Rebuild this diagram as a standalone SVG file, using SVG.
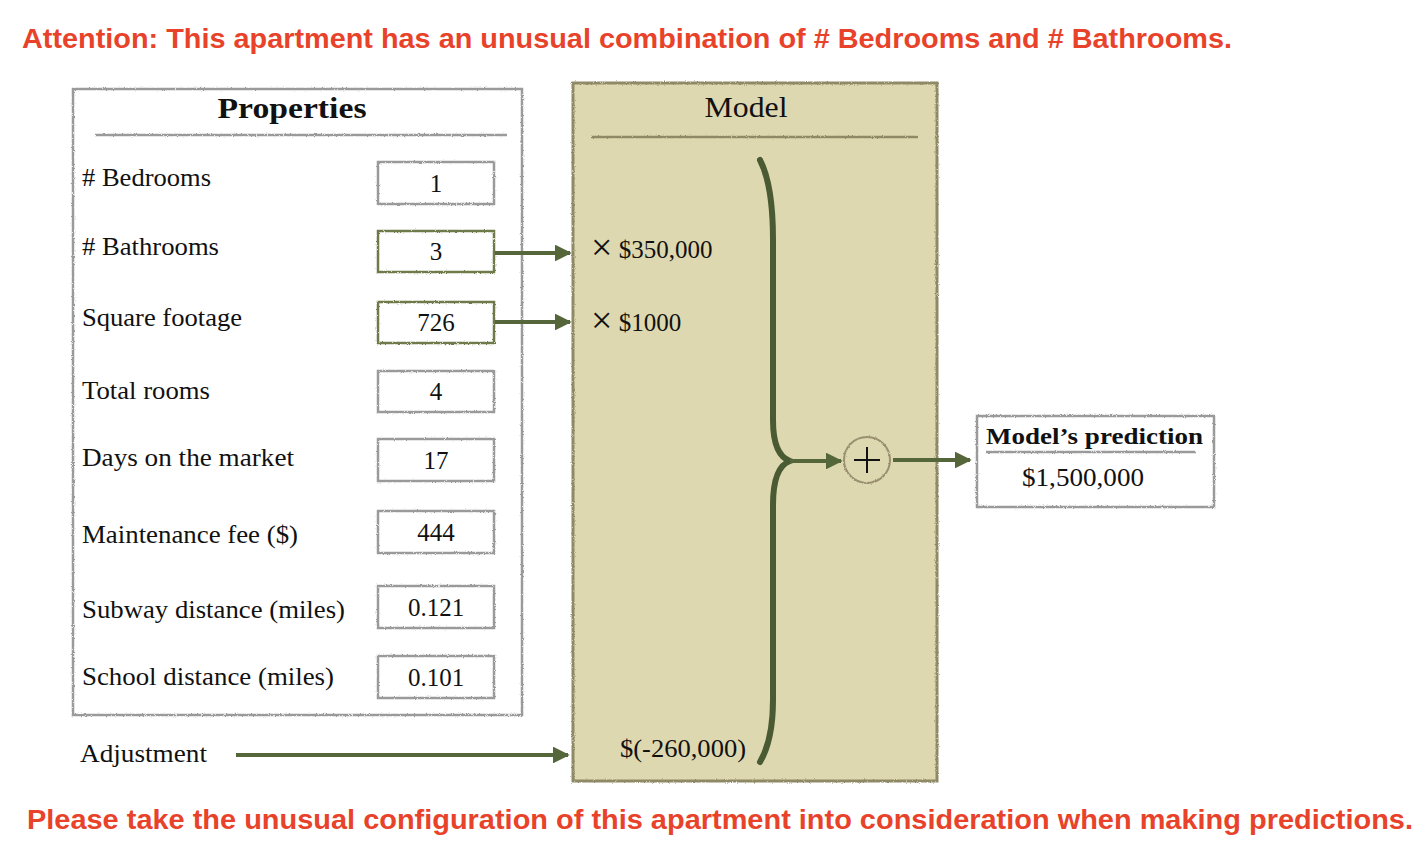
<svg xmlns="http://www.w3.org/2000/svg" width="1420" height="852" viewBox="0 0 1420 852">
<defs>
<filter id="rough" x="-5%" y="-5%" width="110%" height="110%">
<feTurbulence type="fractalNoise" baseFrequency="0.9" numOctaves="2" seed="3" result="n"/>
<feDisplacementMap in="SourceGraphic" in2="n" scale="2.5" xChannelSelector="R" yChannelSelector="G"/>
</filter>
<filter id="roughU" filterUnits="userSpaceOnUse" x="0" y="0" width="1420" height="852">
<feTurbulence type="fractalNoise" baseFrequency="0.9" numOctaves="2" seed="5" result="n"/>
<feDisplacementMap in="SourceGraphic" in2="n" scale="2.5" xChannelSelector="R" yChannelSelector="G"/>
</filter>
<marker id="arr" viewBox="0 0 10 10" refX="9" refY="5" markerWidth="4.2" markerHeight="4.2" orient="auto" markerUnits="strokeWidth">
<path d="M0,0 L10,5 L0,10 z" fill="#55663A"/>
</marker>
<style>
.warn{font-family:"Liberation Sans",Arial,sans-serif;font-weight:bold;font-size:27px;fill:#E8432A}
.lbl{font-family:"Liberation Serif","Times New Roman",serif;font-size:25px;fill:#111}
.val{font-family:"Liberation Serif","Times New Roman",serif;font-size:25px;fill:#111;text-anchor:middle}
.ttl{font-family:"Liberation Serif","Times New Roman",serif;font-size:30px;fill:#111;text-anchor:middle}
.box{fill:#fff;stroke:#9a9a9a;stroke-width:2.5}
.gbox{fill:#fff;stroke:#6E7A4A;stroke-width:2.5}
.rule{stroke:#9a9a9a;stroke-width:2.5}
.conn{stroke:#55663A;stroke-width:4;fill:none}
.x{font-size:38px}
</style>
</defs>
<rect width="1420" height="852" fill="#fff"/>
<text id="top-warning" class="warn" x="22" y="48" textLength="1210" lengthAdjust="spacingAndGlyphs">Attention: This apartment has an unusual combination of # Bedrooms and # Bathrooms.</text>
<text id="bottom-warning" class="warn" x="27" y="829" textLength="1386" lengthAdjust="spacingAndGlyphs">Please take the unusual configuration of this apartment into consideration when making predictions.</text>

<g id="model">
<rect x="573" y="83" width="364" height="698" fill="#DDD8B0" stroke="#8F8966" stroke-width="3" filter="url(#rough)"/>
<text class="ttl" x="746" y="117" textLength="83" lengthAdjust="spacingAndGlyphs">Model</text>
<line x1="591" y1="137" x2="918" y2="137" stroke="#8F8966" stroke-width="2.5" filter="url(#roughU)"/>
<text class="lbl" x="591" y="258"><tspan class="x" dy="2">×</tspan><tspan dy="-2"> $350,000</tspan></text>
<text class="lbl" x="591" y="331"><tspan class="x" dy="2">×</tspan><tspan dy="-2"> $1000</tspan></text>
<text class="lbl" x="620" y="757" textLength="126" lengthAdjust="spacingAndGlyphs">$(-260,000)</text>
</g>

<g id="properties">
<rect x="73" y="89" width="449" height="626" class="box" filter="url(#rough)"/>
<text class="ttl" x="292" y="118" font-weight="bold" textLength="149" lengthAdjust="spacingAndGlyphs">Properties</text>
<line x1="95" y1="135" x2="507" y2="135" class="rule" filter="url(#roughU)"/>
</g>

<g id="row-bedrooms"><text class="lbl" x="82" y="186" textLength="129" lengthAdjust="spacingAndGlyphs"># Bedrooms</text><rect x="378" y="162" width="116" height="42" class="box" filter="url(#rough)"/><text class="val" x="436" y="192">1</text></g>
<g id="row-bathrooms"><text class="lbl" x="82" y="255" textLength="137" lengthAdjust="spacingAndGlyphs"># Bathrooms</text><rect x="378" y="231" width="116" height="41" class="gbox" filter="url(#rough)"/><text class="val" x="436" y="260">3</text></g>
<g id="row-sqft"><text class="lbl" x="82" y="326" textLength="160" lengthAdjust="spacingAndGlyphs">Square footage</text><rect x="378" y="302" width="116" height="41" class="gbox" filter="url(#rough)"/><text class="val" x="436" y="331">726</text></g>
<g id="row-rooms"><text class="lbl" x="82" y="399" textLength="128" lengthAdjust="spacingAndGlyphs">Total rooms</text><rect x="378" y="371" width="116" height="41" class="box" filter="url(#rough)"/><text class="val" x="436" y="400">4</text></g>
<g id="row-days"><text class="lbl" x="82" y="466" textLength="212" lengthAdjust="spacingAndGlyphs">Days on the market</text><rect x="378" y="439" width="116" height="42" class="box" filter="url(#rough)"/><text class="val" x="436" y="469">17</text></g>
<g id="row-fee"><text class="lbl" x="82" y="543" textLength="216" lengthAdjust="spacingAndGlyphs">Maintenance fee ($)</text><rect x="378" y="511" width="116" height="42" class="box" filter="url(#rough)"/><text class="val" x="436" y="541">444</text></g>
<g id="row-subway"><text class="lbl" x="82" y="618" textLength="263" lengthAdjust="spacingAndGlyphs">Subway distance (miles)</text><rect x="378" y="586" width="116" height="42" class="box" filter="url(#rough)"/><text class="val" x="436" y="616">0.121</text></g>
<g id="row-school"><text class="lbl" x="82" y="685" textLength="252" lengthAdjust="spacingAndGlyphs">School distance (miles)</text><rect x="378" y="656" width="116" height="42" class="box" filter="url(#rough)"/><text class="val" x="436" y="686">0.101</text></g>

<g id="adjustment"><text class="lbl" x="80" y="762" textLength="127" lengthAdjust="spacingAndGlyphs">Adjustment</text></g>

<g id="sum">
<circle cx="867" cy="460" r="23" fill="none" stroke="#9A9070" stroke-width="2" filter="url(#rough)"/>
<line x1="854" y1="460" x2="880" y2="460" stroke="#111" stroke-width="2"/>
<line x1="867" y1="447" x2="867" y2="473" stroke="#111" stroke-width="2"/>
</g>

<g id="prediction">
<rect x="977" y="416" width="237" height="91" class="box" filter="url(#rough)"/>
<text x="986" y="444" font-family="'Liberation Serif','Times New Roman',serif" font-size="24" font-weight="bold" fill="#111" textLength="217" lengthAdjust="spacingAndGlyphs">Model’s prediction</text>
<line x1="986" y1="452" x2="1196" y2="452" class="rule" filter="url(#roughU)"/>
<text class="lbl" x="1022" y="486" textLength="122" lengthAdjust="spacingAndGlyphs">$1,500,000</text>
</g>

<g id="connectors">
<line x1="495" y1="253" x2="570" y2="253" class="conn" marker-end="url(#arr)"/>
<line x1="495" y1="322" x2="570" y2="322" class="conn" marker-end="url(#arr)"/>
<line x1="236" y1="755" x2="568" y2="755" class="conn" marker-end="url(#arr)"/>
<path d="M760,160 Q773,185 773,240 L773,420 Q773,455 790,461 Q773,467 773,505 L773,700 Q773,740 760,762" stroke="#4A5A32" stroke-width="6" fill="none" stroke-linecap="round"/>
<line x1="790" y1="461" x2="841" y2="461" class="conn" marker-end="url(#arr)"/>
<line x1="893" y1="460" x2="970" y2="460" class="conn" marker-end="url(#arr)"/>
</g>
</svg>
